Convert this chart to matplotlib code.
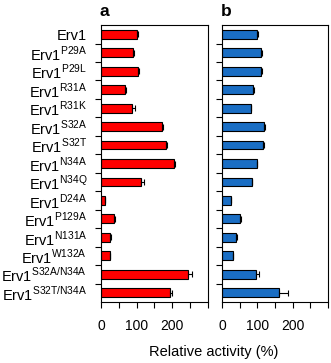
import numpy as np
import matplotlib
matplotlib.use("Agg")
import matplotlib.pyplot as plt

plt.rcParams['font.family'] = ['Liberation Sans', 'DejaVu Sans']
plt.rcParams['mathtext.fontset'] = 'custom'
plt.rcParams['mathtext.rm'] = 'Liberation Sans'

mutants = ["", "P29A", "P29L", "R31A", "R31K", "S32A", "S32T", "N34A", "N34Q",
           "D24A", "P129A", "N131A", "W132A", "S32A/N34A", "S32T/N34A"]

# panel a (red)
act_a = [100, 90, 105, 67, 87, 172, 182, 204, 113, 10, 37, 26, 25, 245, 195]
err_a = [4, 2, 2, 2, 8, 3, 4, 4, 9, 1, 2, 1, 1, 10, 5]
# panel b (blue)
act_b = [100, 110, 110, 87, 82, 119, 115, 99, 85, 25, 52, 39, 31, 96, 162]
err_b = [1, 4, 2, 3, 1, 2, 3, 1, 1, 1, 1, 2, 1, 8, 24]

labels = ["Erv1" if m == "" else r"Erv1$^{\mathregular{%s}}$" % m for m in mutants]

fig = plt.figure(figsize=(3.31, 3.63), dpi=100)
ax_a = fig.add_axes([0.305, 0.168, 0.323, 0.763])
ax_b = fig.add_axes([0.671, 0.168, 0.320, 0.763])

ypos = np.arange(len(mutants))

for ax, vals, errs, col in [(ax_a, act_a, err_a, '#ff0000'), (ax_b, act_b, err_b, '#1a6ec4')]:
    ax.barh(ypos, vals, height=0.48, color=col, edgecolor='black', linewidth=0.8,
            xerr=[np.zeros(len(errs)), errs], error_kw=dict(ecolor='black', elinewidth=0.8, capsize=2.5, capthick=0.8))
    ax.set_ylim(len(mutants) - 0.5, -0.5)
    ax.set_xlim(0, 300)
    ax.set_xticks([0, 100, 200])
    ax.set_xticks([50, 150, 250, 300], minor=True)
    ax.set_yticks(ypos[:-1] + 0.5)
    ax.set_yticklabels([])
    ax.set_yticks(ypos, minor=True)
    ax.tick_params(axis='y', which='major', direction='out', length=4, width=0.8)
    ax.tick_params(axis='y', which='minor', length=0, pad=10)
    ax.tick_params(axis='x', which='both', direction='out', length=4, width=0.8, labelsize=10, pad=8)
    for s in ax.spines.values():
        s.set_linewidth(0.8)

ax_a.set_yticklabels(labels, minor=True, fontsize=10.5)
ax_b.set_yticklabels([], minor=True)

fig.text(0.302, 0.968, "a", fontsize=12.5, fontweight='bold', ha='left', va='center')
fig.text(0.668, 0.968, "b", fontsize=12.5, fontweight='bold', ha='left', va='center')
fig.text(0.647, 0.030, "Relative activity (%)", fontsize=10.5, ha='center', va='center')

fig.savefig("out.png", dpi=100)
